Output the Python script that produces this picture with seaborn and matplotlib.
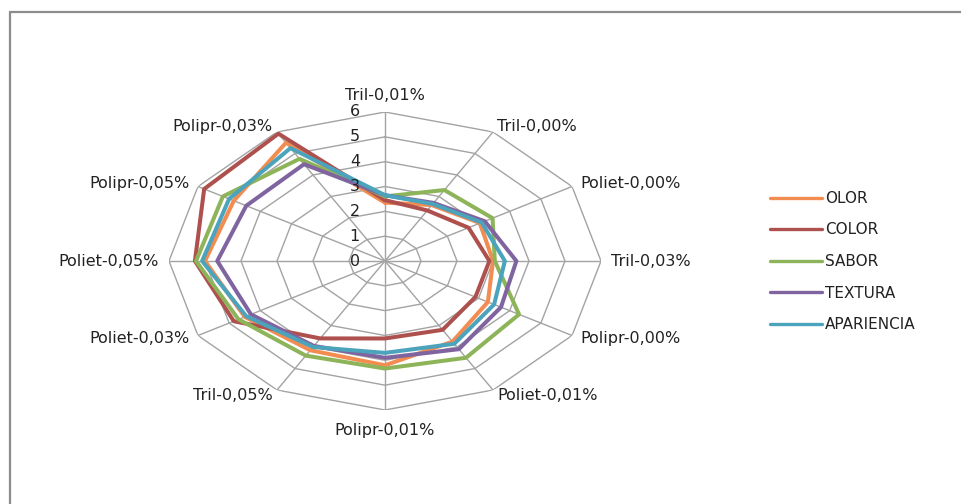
import numpy as np
import pandas as pd
import matplotlib
matplotlib.use("Agg")
import matplotlib.pyplot as plt
import matplotlib.transforms as mtransforms
from matplotlib.lines import Line2D
import seaborn as sns

# Sensory scores per treatment (clockwise from the top spoke)
categories = ["Tril-0,01%", "Tril-0,00%", "Poliet-0,00%", "Tril-0,03%",
              "Polipr-0,00%", "Poliet-0,01%", "Polipr-0,01%", "Tril-0,05%",
              "Poliet-0,03%", "Poliet-0,05%", "Polipr-0,05%", "Polipr-0,03%"]
olor       = [2.35, 2.60, 3.05, 3.00, 3.30, 3.75, 4.20, 4.15, 4.50, 5.00, 4.85, 5.50]
color      = [2.45, 2.35, 2.68, 2.90, 2.90, 3.20, 3.12, 3.60, 4.85, 5.28, 5.80, 5.92]
sabor      = [2.60, 3.30, 3.45, 3.05, 4.30, 4.50, 4.33, 4.40, 4.70, 5.25, 5.20, 4.75]
textura    = [2.65, 2.70, 3.20, 3.65, 3.72, 4.10, 3.90, 3.95, 4.30, 4.66, 4.45, 4.50]
apariencia = [2.65, 2.65, 3.10, 3.33, 3.50, 3.85, 3.70, 4.00, 4.45, 5.08, 5.00, 5.25]

series_names = ["OLOR", "COLOR", "SABOR", "TEXTURA", "APARIENCIA"]
series_values = [olor, color, sabor, textura, apariencia]
palette = ["#F38C50", "#AE514E", "#8EB45A", "#7F64A0", "#4BA3BC"]
r_ticks = [0, 1, 2, 3, 4, 5, 6]

sns.set_theme(style="white")
plt.rcParams["font.family"] = ["DejaVu Sans"]

W, H = 962, 504
fig = plt.figure(figsize=(W / 100, H / 100), dpi=100)
fig.patch.set_facecolor("white")

cx, cy, rx, ry = 385, 261, 216, 149
ax = fig.add_axes([(cx - rx) / W, (H - cy - ry) / H, 2 * rx / W, 2 * ry / H],
                  projection="polar")
ax.set_aspect("auto")
ax.set_theta_zero_location("N")
ax.set_theta_direction(-1)
ax.set_ylim(0, max(r_ticks))

n = len(categories)
theta = np.linspace(0, 2 * np.pi, n, endpoint=False)
theta_closed = np.append(theta, theta[0] + 2 * np.pi)

# long-form table, each polygon closed back on its first point
rows = []
for name, vals in zip(series_names, series_values):
    vals_closed = list(vals) + [vals[0]]
    for order, (t, v) in enumerate(zip(theta_closed, vals_closed)):
        rows.append({"serie": name, "theta": t, "valor": v, "orden": order})
df = pd.DataFrame(rows)

sns.lineplot(data=df, x="theta", y="valor", hue="serie", hue_order=series_names,
             palette=palette, sort=False, estimator=None, units="serie",
             linewidth=2.9, legend=False, ax=ax, zorder=3)

# polygonal grid and spokes
grid_c = "#A3A3A3"
ax.set_yticks([])
ax.set_xticks(theta)
ax.set_xticklabels([])
ax.xaxis.grid(True, color=grid_c, linewidth=1.0)
ax.spines["polar"].set_visible(False)
for r in r_ticks[1:]:
    ax.plot(theta_closed, [r] * len(theta_closed), color=grid_c, lw=1.0, zorder=1)
ax.set_xlabel("")
ax.set_ylabel("")

# radial value labels along the top spoke
off = mtransforms.offset_copy(ax.transData, fig=fig, x=-25, y=0, units="dots")
for r in r_ticks:
    ax.text(0, r, str(r), transform=off, ha="right", va="center",
            fontsize=11.5, color="#222222")

# category labels around the outside
for t, lab in zip(theta, categories):
    s, c = np.sin(t), np.cos(t)
    if abs(s) < 1e-6:
        dx, dy, ha = 0, 17 if c > 0 else -20, "center"
    else:
        dx = np.sign(s) * (12 * abs(s) - 2)
        dy = 6 * c
        ha = "left" if s > 0 else "right"
    tr = mtransforms.offset_copy(ax.transData, fig=fig, x=dx, y=dy, units="dots")
    ax.text(t, max(r_ticks), lab, transform=tr, ha=ha, va="center",
            fontsize=11.5, color="#222222")

handles = [Line2D([0], [0], color=c, lw=2.4) for c in palette]
fig.legend(handles, series_names, loc="upper left",
           bbox_to_anchor=(770 / W, (H - 191) / H), frameon=False,
           borderpad=0, borderaxespad=0, handlelength=3.4, handletextpad=0.2,
           labelspacing=1.08, fontsize=11, labelcolor="#222222")

# chart frame
fig.add_artist(Line2D([10 / W, 1], [(H - 12) / H, (H - 12) / H],
                      transform=fig.transFigure, color="#8C8C8C", lw=1.6))
fig.add_artist(Line2D([10 / W, 10 / W], [0, (H - 12) / H],
                      transform=fig.transFigure, color="#8C8C8C", lw=1.6))

fig.savefig("out.png", dpi=100, facecolor="white")
